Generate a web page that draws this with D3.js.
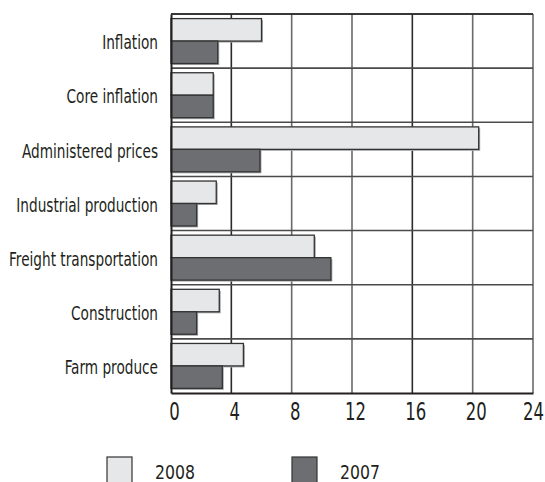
<!DOCTYPE html>
<html>
<head>
<meta charset="utf-8">
<script src="https://cdn.jsdelivr.net/npm/d3@7"></script>
<style>
  body { margin: 0; background: #fff; }
  text { font-family: "Liberation Sans Narrow", "DejaVu Sans Condensed", "DejaVu Sans", sans-serif; fill: #231f20; }
</style>
</head>
<body>
<div id="chart"></div>
<script>
// values (percent change)
const categories = ["Inflation", "Core inflation", "Administered prices", "Industrial production",
                    "Freight transportation", "Construction", "Farm produce"];
const years = ["2008", "2007"];
const values2008 = [6.0, 2.8, 20.4, 3.0, 9.5, 3.2, 4.8];
const values2007 = [3.1, 2.8, 5.9, 1.7, 10.6, 1.7, 3.4];
const xTicks = [0, 4, 8, 12, 16, 20, 24];

const colors = {"2008": "#e6e7e8", "2007": "#6d6e71"};

const width = 545, height = 482;
const margin = {top: 14, right: 12, bottom: 89, left: 171};
const innerW = width - margin.left - margin.right;
const innerH = height - margin.top - margin.bottom;

const svg = d3.select("#chart").append("svg")
    .attr("width", width)
    .attr("height", height);

const g = svg.append("g")
    .attr("transform", `translate(${margin.left},${margin.top})`);

const x = d3.scaleLinear().domain([0, 24]).range([0, innerW]);
const y = d3.scaleBand().domain(categories).range([0, innerH]).paddingInner(0).paddingOuter(0);
const ySub = d3.scaleBand().domain(years).range([4.6, y.bandwidth() - 4.6]);

const rows = categories.map((c, i) => ({cat: c, "2008": values2008[i], "2007": values2007[i]}));

// the original uses a very condensed face; squeeze whatever font we get to the same width
function squeeze(sel, sampleText, targetWidth) {
    const probe = svg.append("text").attr("font-size", sel.attr("font-size")).text(sampleText);
    const w = probe.node().getComputedTextLength();
    probe.remove();
    return Math.min(1, targetWidth / w);
}

// grid: vertical lines
g.append("g").selectAll("line")
    .data(xTicks.slice(1))
    .join("line")
    .attr("x1", d => x(d)).attr("x2", d => x(d))
    .attr("y1", 0).attr("y2", innerH)
    .attr("stroke", (d, i) => (i === 0 || i === 3) ? "#2b2b2b" : "#6a6a6a")
    .attr("stroke-width", 1.6);

// grid: horizontal lines between categories
g.append("g").selectAll("line")
    .data(categories)
    .join("line")
    .attr("x1", 0).attr("x2", innerW)
    .attr("y1", d => y(d)).attr("y2", d => y(d))
    .attr("stroke", (d, i) => i === 0 ? "#2b2b2b" : "#4a4a4a")
    .attr("stroke-width", 1.6);

// bars
const bars = g.append("g").selectAll("g")
    .data(rows)
    .join("g")
    .attr("transform", d => `translate(0,${y(d.cat)})`);

const barData = d => years.map(k => ({key: k, value: d[k]}));

// soft print shadow
bars.selectAll(".shadow")
    .data(barData)
    .join("rect")
    .attr("class", "shadow")
    .attr("x", 1.5)
    .attr("y", d => ySub(d.key) + 1.5)
    .attr("width", d => x(d.value))
    .attr("height", ySub.bandwidth())
    .attr("fill", "#a7a9ac");

bars.selectAll(".bar")
    .data(barData)
    .join("rect")
    .attr("class", "bar")
    .attr("x", 0)
    .attr("y", d => ySub(d.key))
    .attr("width", d => x(d.value))
    .attr("height", ySub.bandwidth())
    .attr("fill", d => colors[d.key])
    .attr("stroke", "#333")
    .attr("stroke-width", 1.3);

// axes
const xAxis = g.append("g")
    .attr("transform", `translate(0,${innerH})`)
    .call(d3.axisBottom(x).tickValues(xTicks).tickSize(0).tickPadding(10));
xAxis.select(".domain").attr("stroke", "#231f20").attr("stroke-width", 2);
xAxis.selectAll("text")
    .attr("font-size", 24)
    .attr("dy", "0.71em")
    .style("fill", "#231f20");
const sTick = squeeze(xAxis.select("text"), "20", 21);
xAxis.selectAll("text")
    // last label sits right at the page edge, nudge it in so it is not clipped
    .attr("transform", d => `translate(${d === 24 ? 0 : 3},0) scale(${sTick},1)`);

const yAxis = g.append("g")
    .call(d3.axisLeft(y).tickSize(0).tickPadding(13));
yAxis.select(".domain").attr("stroke", "#231f20").attr("stroke-width", 2);
yAxis.selectAll("text")
    .attr("font-size", 19)
    .attr("dy", "0.43em")
    .style("fill", "#231f20");
const sLab = squeeze(yAxis.select("text"), "Freight transportation", 149);
yAxis.selectAll("text")
    .attr("x", 0)
    .attr("transform", `translate(-13,0) scale(${sLab},1)`);

// top border
g.append("line")
    .attr("x1", 0).attr("x2", innerW).attr("y1", 0).attr("y2", 0)
    .attr("stroke", "#2b2b2b").attr("stroke-width", 1.6);

// legend
const legendX = d3.scalePoint().domain(years).range([107, 292]);
const legend = svg.append("g").selectAll("g")
    .data(years)
    .join("g")
    .attr("transform", d => `translate(${legendX(d)},457)`);
legend.append("rect")
    .attr("width", 25).attr("height", 30)
    .attr("fill", d => colors[d])
    .attr("stroke", "#333").attr("stroke-width", 1.2);
const legText = legend.append("text")
    .attr("font-size", 19)
    .text(d => d);
const sLeg = squeeze(legText, "2008", 40);
legText.attr("transform", `translate(48,22) scale(${sLeg},1)`);
</script>
</body>
</html>
